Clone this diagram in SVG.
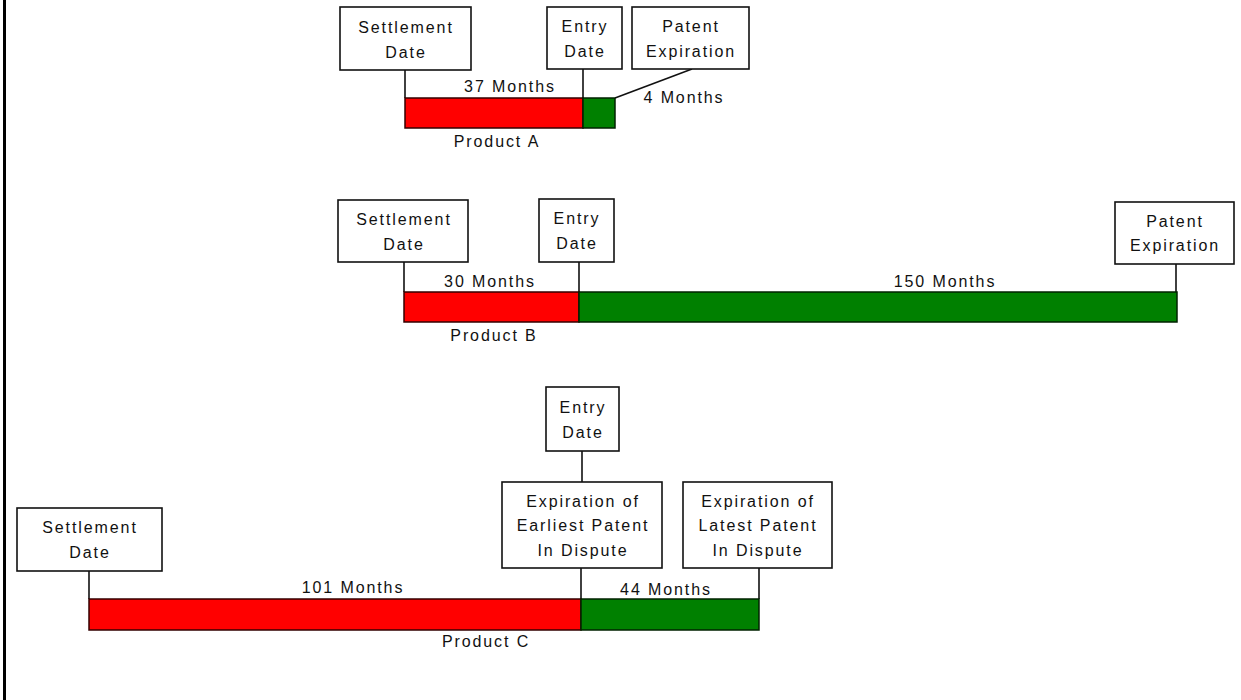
<svg xmlns="http://www.w3.org/2000/svg" width="1241" height="700" viewBox="0 0 1241 700">
<style>
.box{fill:#fff;stroke:#111;stroke-width:1.6}
.t{font-family:"Liberation Sans",Arial,sans-serif;font-size:16px;letter-spacing:1.9px;fill:#111;text-anchor:middle}
.red{fill:#ff0000;stroke:#300;stroke-width:1.5}
.green{fill:#008000;stroke:#020;stroke-width:1.5}
.c{stroke:#111;stroke-width:1.6;fill:none}
</style>
<rect width="1241" height="700" fill="#fff"/>
<rect x="3" y="0" width="3" height="700" fill="#000"/>

<g id="connectors">
<line class="c" x1="405" y1="70" x2="405" y2="98"/>
<line class="c" x1="583" y1="69" x2="583" y2="98"/>
<line class="c" x1="615" y1="98" x2="692" y2="69"/>
<line class="c" x1="404" y1="262" x2="404" y2="292"/>
<line class="c" x1="579" y1="262" x2="579" y2="292"/>
<line class="c" x1="1176" y1="264" x2="1176" y2="292"/>
<line class="c" x1="89" y1="571" x2="89" y2="599"/>
<line class="c" x1="582" y1="451" x2="582" y2="482"/>
<line class="c" x1="581" y1="568" x2="581" y2="599"/>
<line class="c" x1="759" y1="568" x2="759" y2="599"/>
</g>

<g id="barA">
<rect class="red" x="405" y="98" width="178" height="30"/>
<rect class="green" x="583" y="98" width="32" height="30"/>
</g>
<g id="barB">
<rect class="red" x="404" y="292" width="175" height="30"/>
<rect class="green" x="579" y="292" width="598" height="30"/>
</g>
<g id="barC">
<rect class="red" x="89" y="599" width="492" height="31"/>
<rect class="green" x="581" y="599" width="178" height="31"/>
</g>

<g id="settlementA"><rect class="box" x="340" y="7" width="131" height="63"/><text class="t" x="406" y="33">Settlement</text><text class="t" x="406" y="58">Date</text></g>
<g id="entryA"><rect class="box" x="547" y="7" width="75" height="62"/><text class="t" x="585" y="32">Entry</text><text class="t" x="585" y="57">Date</text></g>
<g id="patentA"><rect class="box" x="632" y="7" width="117" height="62"/><text class="t" x="691" y="32">Patent</text><text class="t" x="691" y="57">Expiration</text></g>

<g id="settlementB"><rect class="box" x="338" y="200" width="130" height="62"/><text class="t" x="404" y="225">Settlement</text><text class="t" x="404" y="250">Date</text></g>
<g id="entryB"><rect class="box" x="539" y="199" width="75" height="63"/><text class="t" x="577" y="224">Entry</text><text class="t" x="577" y="249">Date</text></g>
<g id="patentB"><rect class="box" x="1115" y="202" width="119" height="62"/><text class="t" x="1175" y="227">Patent</text><text class="t" x="1175" y="251">Expiration</text></g>

<g id="settlementC"><rect class="box" x="17" y="508" width="145" height="63"/><text class="t" x="90" y="533">Settlement</text><text class="t" x="90" y="558">Date</text></g>
<g id="entryC"><rect class="box" x="546" y="387" width="73" height="64"/><text class="t" x="583" y="413">Entry</text><text class="t" x="583" y="438">Date</text></g>
<g id="earliestC"><rect class="box" x="502" y="482" width="160" height="86"/><text class="t" x="583" y="507">Expiration of</text><text class="t" x="583" y="531">Earliest Patent</text><text class="t" x="583" y="556">In Dispute</text></g>
<g id="latestC"><rect class="box" x="683" y="482" width="149" height="86"/><text class="t" x="758" y="507">Expiration of</text><text class="t" x="758" y="531">Latest Patent</text><text class="t" x="758" y="556">In Dispute</text></g>

<g id="labels">
<text class="t" x="510" y="92">37 Months</text>
<text class="t" x="684" y="103">4 Months</text>
<text class="t" x="497" y="147">Product A</text>
<text class="t" x="490" y="287">30 Months</text>
<text class="t" x="945" y="287">150 Months</text>
<text class="t" x="494" y="341">Product B</text>
<text class="t" x="353" y="593">101 Months</text>
<text class="t" x="666" y="595">44 Months</text>
<text class="t" x="486" y="647">Product C</text>
</g>
</svg>
